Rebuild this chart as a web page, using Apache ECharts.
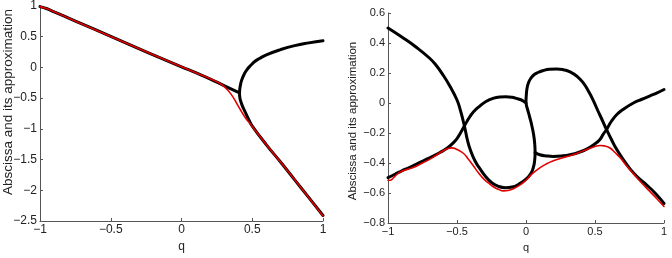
<!DOCTYPE html>
<html>
<head>
<meta charset="utf-8">
<script src="https://cdn.jsdelivr.net/npm/echarts@6/dist/echarts.min.js"></script>
<style>
html,body{margin:0;padding:0;background:#fff;}
#c{width:672px;height:258px;}
</style>
</head>
<body>
<div id="c"></div>
<script>
// ---- Data (q, value) ----
var xTicksLeft = [-1, -0.5, 0, 0.5, 1];
var yTicksLeft = [-2.5, -2, -1.5, -1, -0.5, 0, 0.5, 1];
var xTicksRight = [-1, -0.5, 0, 0.5, 1];
var yTicksRight = [-0.8, -0.6, -0.4, -0.2, 0, 0.2, 0.4, 0.6];

// Left panel: black branches
var leftComplexBranch = [[-1,0.99],[-0.95,0.955],[-0.9,0.905],[-0.75,0.755],[-0.5,0.505],[-0.25,0.255],[0,0.01],[0.1,-0.085],[0.2,-0.185],[0.3,-0.295],[0.41,-0.415]];
var leftRealBranches = [[1,0.435],[0.9,0.40],[0.8,0.355],[0.7,0.29],[0.6,0.205],[0.55,0.145],[0.52,0.1],[0.49,0.035],[0.463,-0.035],[0.443,-0.11],[0.428,-0.19],[0.418,-0.27],[0.412,-0.35],[0.41,-0.43],[0.413,-0.5],[0.42,-0.56],[0.43,-0.625],[0.445,-0.7],[0.46,-0.775],[0.48,-0.87],[0.5,-0.955],[0.6,-1.26],[0.7,-1.54],[0.8,-1.83],[0.9,-2.12],[1,-2.41]];
// Left panel: red approximation
var leftApprox = [[-1,0.99],[-0.95,0.955],[-0.9,0.905],[-0.5,0.505],[0,0.01],[0.1,-0.085],[0.2,-0.18],[0.25,-0.235],[0.3,-0.31],[0.35,-0.435],[0.4,-0.625],[0.45,-0.815],[0.5,-0.96],[0.6,-1.26],[0.7,-1.54],[0.8,-1.83],[0.9,-2.12],[1,-2.42]];

// Right panel: black branches
var rightMainBranch = [[-1,0.50],[-0.9,0.44],[-0.8,0.375],[-0.7,0.3],[-0.65,0.25],[-0.6,0.185],[-0.55,0.11],[-0.5,0.02],[-0.475,-0.05],[-0.455,-0.12],[-0.44,-0.18],[-0.425,-0.245],[-0.406,-0.305],[-0.37,-0.385],[-0.333,-0.439],[-0.29,-0.493],[-0.25,-0.53],[-0.2,-0.556],[-0.15,-0.565],[-0.1,-0.56],[-0.05,-0.54],[0.0,-0.508],[0.035,-0.47],[0.053,-0.43],[0.062,-0.39],[0.066,-0.33],[0.063,-0.27],[0.055,-0.21],[0.042,-0.15],[0.027,-0.095],[0.012,-0.045],[0.002,-0.01],[0.0,0.01],[0.002,0.05],[0.007,0.095],[0.018,0.135],[0.035,0.165],[0.06,0.19],[0.09,0.205],[0.126,0.217],[0.17,0.225],[0.222,0.227],[0.27,0.222],[0.319,0.208],[0.37,0.178],[0.415,0.134],[0.455,0.075],[0.488,0.016],[0.52,-0.05],[0.548,-0.105],[0.57,-0.15],[0.585,-0.179],[0.62,-0.245],[0.657,-0.309],[0.7,-0.37],[0.754,-0.439],[0.81,-0.495],[0.875,-0.547],[0.94,-0.605],[1,-0.67]];
var rightLowerBranch = [[-1,-0.497],[-0.95,-0.475],[-0.9,-0.452],[-0.85,-0.432],[-0.8,-0.41],[-0.744,-0.385],[-0.68,-0.357],[-0.623,-0.33],[-0.57,-0.3],[-0.527,-0.266],[-0.5,-0.237],[-0.478,-0.205],[-0.46,-0.175],[-0.442,-0.145],[-0.425,-0.118],[-0.406,-0.09],[-0.38,-0.058],[-0.337,-0.022],[-0.29,0.01],[-0.241,0.03],[-0.19,0.04],[-0.145,0.042],[-0.1,0.038],[-0.06,0.028],[-0.025,0.016],[0,0.0]];
var rightRightBranch = [[0.066,-0.33],[0.1,-0.345],[0.15,-0.353],[0.198,-0.356],[0.26,-0.353],[0.319,-0.345],[0.38,-0.33],[0.44,-0.307],[0.5,-0.272],[0.536,-0.243],[0.56,-0.208],[0.585,-0.175],[0.62,-0.12],[0.66,-0.075],[0.7,-0.045],[0.778,0.0],[0.84,0.025],[0.899,0.048],[0.95,0.068],[1,0.09]];
// Right panel: red approximation
var rightApprox = [[-1,-0.515],[-0.985,-0.515],[-0.962,-0.5],[-0.94,-0.48],[-0.913,-0.461],[-0.87,-0.445],[-0.817,-0.43],[-0.75,-0.4],[-0.696,-0.374],[-0.64,-0.342],[-0.599,-0.318],[-0.565,-0.303],[-0.538,-0.299],[-0.5,-0.31],[-0.454,-0.335],[-0.42,-0.372],[-0.382,-0.418],[-0.345,-0.465],[-0.309,-0.504],[-0.27,-0.535],[-0.237,-0.558],[-0.2,-0.575],[-0.164,-0.586],[-0.13,-0.583],[-0.092,-0.572],[-0.045,-0.548],[0.005,-0.51],[0.05,-0.468],[0.1,-0.432],[0.15,-0.405],[0.2,-0.385],[0.26,-0.366],[0.319,-0.352],[0.38,-0.332],[0.44,-0.31],[0.5,-0.29],[0.536,-0.283],[0.57,-0.286],[0.609,-0.3],[0.645,-0.33],[0.681,-0.364],[0.73,-0.42],[0.778,-0.471],[0.84,-0.535],[0.899,-0.591],[0.95,-0.64],[1,-0.69]];

var yLabelText = 'Abscissa and its approximation';
var xLabelText = 'q';

function fmt(v){
  var r = Math.round(v*10)/10;
  var s = String(r);
  return s.replace('-', '\u2212');
}
var FONT = '"Liberation Sans", Arial, Helvetica, sans-serif';
var AXC = '#555';

function xAxisCfg(idx, fs){
  return {
    type:'value', gridIndex:idx, min:-1, max:1, interval:0.5,
    name:xLabelText, nameLocation:'middle', nameGap:fs+8,
    nameTextStyle:{color:'#222', fontSize:fs, fontFamily:FONT},
    axisLine:{show:true, onZero:false, lineStyle:{color:AXC, width:1}},
    axisTick:{show:true, inside:true, length:3, lineStyle:{color:AXC}},
    axisLabel:{show:true, margin:3, color:'#222', fontSize:fs, fontFamily:FONT, formatter:fmt, showMinLabel:true, showMaxLabel:true},
    splitLine:{show:false}
  };
}
function yAxisCfg(idx, fs, mn, mx, iv){
  return {
    type:'value', gridIndex:idx, min:mn, max:mx, interval:iv,
    axisLine:{show:true, onZero:false, lineStyle:{color:AXC, width:1}},
    axisTick:{show:true, inside:true, length:3, lineStyle:{color:AXC}},
    axisLabel:{show:true, margin:3, color:'#222', fontSize:fs, fontFamily:FONT, formatter:fmt, showMinLabel:true, showMaxLabel:true},
    splitLine:{show:false}
  };
}
function blk(xi, data){
  return {type:'line', xAxisIndex:xi, yAxisIndex:xi, data:data, showSymbol:false, symbol:'none', smooth:0.5, clip:false,
          lineStyle:{color:'#000', width:3, cap:'round', join:'round'}, z:2, animation:false};
}
function red(xi, data){
  return {type:'line', xAxisIndex:xi, yAxisIndex:xi, data:data, showSymbol:false, symbol:'none', smooth:0.5, clip:false,
          lineStyle:{color:'#e00000', width:1.6, cap:'round', join:'round'}, z:3, animation:false};
}

var chart = echarts.init(document.getElementById('c'), null, {renderer:'canvas'});
chart.setOption({
  animation:false,
  backgroundColor:'#fff',
  grid:[
    {left:40, top:6, width:283, height:221},
    {left:388, top:13, width:276, height:216}
  ],
  xAxis:[xAxisCfg(0, 12), xAxisCfg(1, 11)],
  yAxis:[yAxisCfg(0, 12, -2.5, 1, 0.5), yAxisCfg(1, 11, -0.8, 0.6, 0.2)],
  graphic:[
    {type:'text', x:8, y:102, rotation:Math.PI/2, style:{text:yLabelText, fill:'#222', font:'13.5px '+FONT, align:'center', verticalAlign:'middle'}},
    {type:'text', x:353, y:121, rotation:Math.PI/2, style:{text:yLabelText, fill:'#222', font:'11.5px '+FONT, align:'center', verticalAlign:'middle'}}
  ],
  series:[
    blk(0, leftComplexBranch),
    blk(0, leftRealBranches),
    red(0, leftApprox),
    blk(1, rightMainBranch),
    blk(1, rightLowerBranch),
    blk(1, rightRightBranch),
    red(1, rightApprox)
  ]
});
</script>
</body>
</html>
